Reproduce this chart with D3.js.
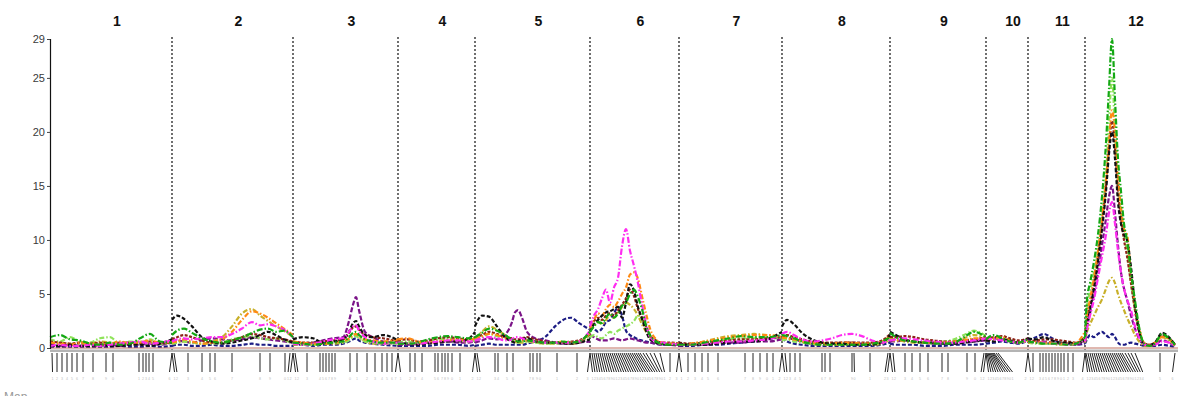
<!DOCTYPE html>
<html>
<head>
<meta charset="utf-8">
<script src="https://cdn.jsdelivr.net/npm/d3@7"></script>
<style>
  html, body { margin: 0; padding: 0; background: #fff; }
  svg { display: block; }
</style>
</head>
<body>
<svg id="chart" width="1184" height="396"></svg>
<script>
// ---------------- DATA ----------------
const chromosomes = ["1","2","3","4","5","6","7","8","9","10","11","12"];
const chrLengths = [122,121,105,77,115,89,103,108,96,42,57,90];
const yTickValues = [0,5,10,15,20,25,28.6];

// local positions (cM) of LOD evaluation points per chromosome
const grid = [
  [0,10,20,30,40,50,60,70,80,90,100,110,122],
  [0,5,12,20,30,40,50,60,70,80,88,96,104,112,121],
  [0,10,20,30,40,50,56,60,63,66,72,80,90,105],
  [0,10,20,30,40,50,60,70,77],
  [0,7,14,22,30,37,40,43,47,52,60,70,80,88,96,104,115],
  [0,4,8,12,16,20,24,28,32,36,40,44,48,52,56,60,66,72,80,89],
  [0,12,25,38,50,62,75,88,103],
  [0,5,12,20,30,40,50,60,70,80,90,100,108],
  [0,6,14,24,34,44,54,64,74,84,96],
  [0,8,16,24,32,42],
  [0,8,16,24,32,40,48,57],
  [0,2,5,9,13,17,21,24,27,30,33,36,39,42,46,50,55,60,65,70,77,84,90]
];

const lodNavy = [
  [0.1,0.1,0.1,0.1,0.1,0.1,0.1,0.2,0.1,0.1,0.2,0.1,0.2],
  [0.2,0.3,0.3,0.2,0.2,0.3,0.2,0.2,0.3,0.4,0.3,0.3,0.2,0.2,0.2],
  [0.3,0.3,0.2,0.3,0.3,0.4,0.6,0.8,0.9,0.7,0.5,0.4,0.3,0.2],
  [0.2,0.2,0.2,0.2,0.3,0.3,0.3,0.2,0.3],
  [0.2,0.3,0.4,0.3,0.3,0.3,0.3,0.3,0.3,0.4,0.6,1.0,2.0,2.6,2.8,2.3,1.7],
  [2.0,1.8,1.5,1.8,2.4,2.6,3.2,3.8,3.0,1.6,1.2,1.0,0.8,0.7,0.6,0.5,0.4,0.3,0.3,0.3],
  [0.2,0.2,0.3,0.3,0.4,0.5,0.6,0.8,1.0],
  [0.9,0.6,0.4,0.3,0.2,0.2,0.2,0.2,0.2,0.2,0.2,0.3,0.5],
  [0.4,0.3,0.3,0.3,0.2,0.2,0.2,0.3,0.3,0.3,0.4],
  [0.4,0.5,0.6,0.5,0.4,0.7],
  [0.7,1.0,1.3,0.9,0.5,0.4,0.3,0.4],
  [0.4,0.8,1.2,1.0,1.3,1.5,1.2,1.0,1.3,1.0,0.5,0.3,0.3,0.4,0.5,0.4,0.3,0.2,0.2,0.2,0.3,0.2,0.1]
];
const lodPurple = [
  [0.2,0.2,0.3,0.2,0.2,0.2,0.3,0.2,0.3,0.3,0.4,0.3,0.5],
  [0.5,0.7,0.6,0.5,0.7,0.9,0.8,0.7,0.8,1.0,0.9,0.8,0.7,0.6,0.5],
  [0.5,0.4,0.5,0.7,0.9,1.0,2.5,4.0,4.7,3.5,1.5,1.0,0.6,0.5],
  [0.3,0.3,0.4,0.5,0.5,0.6,0.5,0.5,0.6],
  [0.5,0.7,0.9,0.8,1.2,2.4,3.3,3.5,2.8,1.5,0.9,0.7,0.5,0.4,0.4,0.5,0.6],
  [1.2,1.0,0.8,0.7,0.7,0.8,0.9,0.8,0.7,0.8,0.9,0.8,0.7,0.6,0.5,0.5,0.4,0.3,0.3,0.2],
  [0.2,0.3,0.3,0.4,0.5,0.5,0.6,0.6,0.8],
  [0.8,0.9,0.8,0.6,0.4,0.4,0.4,0.5,0.5,0.4,0.4,0.5,0.9],
  [0.6,0.6,0.7,0.6,0.5,0.4,0.4,0.4,0.5,0.6,0.7],
  [0.7,0.9,0.8,0.6,0.5,0.8],
  [0.5,0.6,0.6,0.5,0.4,0.3,0.3,0.6],
  [0.6,2.0,3.2,5.0,7.0,9.5,12.0,14.0,15.0,12.5,9.5,7.0,5.5,4.5,3.0,1.8,0.7,0.3,0.2,0.3,0.7,0.5,0.2]
];
const lodOlive = [
  [0.4,0.5,0.4,0.3,0.4,0.6,0.5,0.4,0.5,0.6,0.5,0.4,0.5],
  [0.4,0.5,0.6,0.5,0.4,0.6,1.0,2.0,3.2,3.6,3.0,2.5,2.0,1.6,1.0],
  [0.3,0.3,0.3,0.4,0.4,0.5,0.8,1.1,1.2,1.0,0.6,0.4,0.4,0.5],
  [0.4,0.5,0.5,0.6,0.7,0.8,0.7,0.6,0.8],
  [0.9,1.5,2.0,1.7,1.2,0.8,0.6,0.5,0.5,0.6,0.5,0.4,0.4,0.5,0.4,0.5,1.2],
  [1.6,2.0,2.4,2.2,2.6,3.0,2.8,3.3,3.8,4.2,4.0,3.6,3.0,2.2,1.5,1.0,0.6,0.5,0.4,0.3],
  [0.3,0.4,0.6,0.9,1.1,1.2,1.3,1.2,1.0],
  [0.8,0.9,0.8,0.6,0.4,0.3,0.3,0.3,0.4,0.3,0.3,0.4,0.8],
  [0.9,0.8,0.6,0.5,0.5,0.5,0.5,0.6,0.9,1.2,0.9],
  [0.7,0.8,0.9,0.7,0.5,0.7],
  [0.5,0.5,0.4,0.4,0.3,0.3,0.4,0.9],
  [0.5,1.5,2.2,3.0,3.8,4.5,5.5,6.2,6.5,6.0,5.0,4.2,3.5,2.8,2.0,1.2,0.5,0.2,0.2,0.4,1.0,0.7,0.2]
];
const lodLime = [
  [0.8,0.6,1.0,0.6,0.5,0.9,1.0,0.4,0.6,0.5,0.8,0.4,0.6],
  [0.4,0.5,0.6,0.5,0.4,0.4,0.5,0.8,1.0,1.1,0.9,0.8,0.9,0.7,0.5],
  [0.4,0.3,0.3,0.4,0.5,0.5,0.7,1.0,1.1,0.9,0.6,0.5,0.4,0.4],
  [0.5,0.6,0.5,0.6,0.8,0.9,0.8,0.6,0.7],
  [0.8,1.0,1.3,1.1,0.9,0.7,0.6,0.5,0.6,0.6,0.5,0.4,0.4,0.5,0.5,0.6,1.2],
  [1.0,1.2,1.0,0.9,1.2,1.5,1.3,1.6,1.8,2.0,2.2,2.5,3.0,2.6,1.8,1.0,0.5,0.4,0.4,0.3],
  [0.3,0.3,0.4,0.6,0.8,0.9,0.9,1.0,0.9],
  [0.7,0.8,0.6,0.5,0.4,0.4,0.4,0.4,0.4,0.4,0.4,0.5,0.9],
  [0.8,0.7,0.7,0.6,0.5,0.5,0.6,0.8,1.2,1.6,1.1],
  [0.8,1.0,0.8,0.6,0.5,0.7],
  [0.5,0.4,0.4,0.4,0.3,0.3,0.4,0.8],
  [0.8,3.8,5.2,7.0,9.0,12.0,16.0,21.0,25.0,20.0,15.0,12.5,10.5,9.0,6.0,3.5,1.2,0.3,0.2,0.5,1.2,0.8,0.3]
];
const lodBrown = [
  [0.6,0.5,0.4,0.5,0.4,0.5,0.4,0.5,0.5,0.4,0.6,0.5,0.5],
  [0.8,1.0,1.2,1.0,0.7,0.5,0.5,0.7,1.0,1.3,1.2,1.0,0.9,0.8,0.6],
  [0.6,0.5,0.5,0.6,0.7,0.8,1.4,1.9,2.0,1.7,1.2,1.0,0.9,0.6],
  [0.7,0.8,0.6,0.7,0.9,1.0,0.9,0.8,1.0],
  [1.0,1.2,1.5,1.3,1.0,0.9,0.8,0.8,0.9,1.0,0.8,0.6,0.5,0.5,0.6,0.7,1.3],
  [2.2,2.5,2.8,2.6,3.0,3.2,3.0,3.5,4.0,4.6,5.4,4.8,3.6,2.8,2.0,1.2,0.7,0.5,0.5,0.4],
  [0.5,0.4,0.5,0.6,0.7,0.8,0.8,0.9,1.0],
  [1.0,1.2,1.0,0.8,0.6,0.5,0.5,0.5,0.5,0.5,0.5,0.7,1.3],
  [1.0,1.0,1.1,1.0,0.8,0.7,0.6,0.6,0.7,0.8,1.0],
  [0.9,1.0,1.1,0.9,0.7,0.9],
  [0.6,0.7,0.8,0.8,0.7,0.6,0.5,1.0],
  [0.8,2.5,4.0,6.0,8.5,11.5,15.0,18.5,21.0,18.5,14.5,12.0,10.0,8.5,6.0,3.5,1.2,0.4,0.3,0.5,1.2,0.9,0.3]
];
const lodOrange = [
  [0.5,0.4,0.3,0.5,0.4,0.3,0.4,0.6,0.4,0.5,0.7,0.5,0.6],
  [0.5,0.6,0.8,0.6,0.4,0.5,0.8,1.5,2.6,3.4,3.2,2.8,2.3,1.8,1.2],
  [0.6,0.5,0.4,0.4,0.5,0.6,0.9,1.2,1.3,1.1,0.8,0.7,0.6,0.8],
  [0.8,0.9,0.6,0.5,0.6,0.7,0.8,0.7,0.9],
  [0.9,1.1,1.3,1.2,0.9,0.7,0.6,0.6,0.7,0.7,0.6,0.5,0.5,0.6,0.5,0.6,1.4],
  [1.8,2.6,3.2,3.0,3.6,4.0,3.8,4.3,5.0,5.6,6.8,7.0,6.4,4.8,3.2,1.8,0.8,0.5,0.4,0.4],
  [0.3,0.4,0.6,0.8,1.0,1.1,1.2,1.2,1.0],
  [1.0,0.9,0.8,0.6,0.5,0.4,0.4,0.5,0.5,0.4,0.4,0.6,1.1],
  [0.8,0.7,0.7,0.6,0.5,0.5,0.5,0.6,0.7,0.9,0.8],
  [0.8,0.9,1.0,0.7,0.5,0.7],
  [0.5,0.6,0.5,0.5,0.4,0.4,0.5,1.5],
  [1.0,3.0,4.5,6.5,9.0,12.0,15.5,19.0,22.0,20.0,16.0,13.0,11.0,10.5,7.0,4.0,1.5,0.4,0.3,0.5,1.0,0.8,0.3]
];
const lodMagenta = [
  [0.2,0.3,0.2,0.2,0.3,0.2,0.3,0.4,0.5,0.6,0.4,0.5,0.7],
  [0.6,0.8,0.9,0.8,0.9,1.0,1.0,1.3,1.8,2.4,2.1,2.2,2.0,1.7,1.0],
  [0.4,0.3,0.4,0.6,0.8,0.9,1.5,2.0,2.1,1.6,1.0,0.6,0.4,0.5],
  [0.5,0.4,0.4,0.5,0.6,0.7,0.7,0.6,0.7],
  [0.7,0.9,1.0,0.9,0.7,0.8,1.0,1.0,0.9,0.7,0.6,0.5,0.5,0.5,0.5,0.6,1.6],
  [2.0,3.0,3.6,4.6,5.4,4.2,5.6,6.5,9.4,11.0,9.0,7.6,6.0,4.0,2.3,1.0,0.6,0.5,0.4,0.3],
  [0.3,0.3,0.4,0.5,0.6,0.6,0.7,0.8,1.2],
  [1.3,1.5,1.2,0.8,0.6,0.7,0.9,1.2,1.3,1.1,0.7,0.5,0.8],
  [0.7,0.8,0.9,0.8,0.7,0.6,0.5,0.5,0.6,0.7,0.9],
  [0.9,0.8,0.7,0.6,0.5,0.8],
  [0.6,0.5,0.5,0.4,0.4,0.3,0.4,0.8],
  [0.6,1.8,3.0,4.5,6.5,8.5,10.5,12.5,13.5,11.5,9.0,7.0,5.5,4.5,3.5,2.0,0.8,0.3,0.2,0.3,0.6,0.5,0.2]
];
const lodBlack = [
  [0.3,0.2,0.3,0.2,0.2,0.3,0.2,0.2,0.3,0.3,0.2,0.4,0.8],
  [2.6,3.0,2.7,2.0,1.0,0.6,0.4,0.5,0.7,0.9,1.2,1.5,1.2,0.8,0.5],
  [0.8,1.0,0.9,0.5,0.6,0.8,1.5,2.3,2.5,2.0,1.2,1.0,1.2,0.7],
  [0.5,0.4,0.3,0.4,0.5,0.6,0.6,0.8,1.5],
  [2.0,3.0,2.9,2.0,1.0,0.6,0.5,0.6,0.8,0.9,0.6,0.5,0.5,0.4,0.4,0.5,0.8],
  [1.5,2.2,2.6,3.0,3.3,3.4,3.6,3.8,2.8,4.2,5.9,5.3,3.8,2.7,1.6,0.8,0.5,0.4,0.3,0.3],
  [0.4,0.3,0.3,0.4,0.5,0.6,0.6,0.8,1.5],
  [2.0,2.6,2.2,1.4,0.8,0.5,0.4,0.4,0.3,0.3,0.3,0.5,1.2],
  [1.5,1.2,0.8,0.6,0.5,0.5,0.4,0.4,0.5,0.6,0.8],
  [0.7,0.6,0.8,0.7,0.5,0.9],
  [0.9,0.8,1.0,0.7,0.5,0.5,0.4,0.8],
  [0.8,2.0,3.5,5.5,8.0,11.0,14.5,18.0,20.0,17.5,13.5,11.5,10.5,10.0,7.5,4.0,1.2,0.3,0.3,0.5,1.4,1.0,0.3]
];
const lodGreen = [
  [1.0,1.2,0.8,0.7,0.4,0.3,0.5,0.3,0.4,0.9,1.3,0.6,0.5],
  [1.2,1.6,1.8,1.4,0.9,0.6,0.5,0.7,1.0,1.4,1.7,1.8,1.5,1.6,1.0],
  [0.5,0.4,0.3,0.4,0.5,0.6,1.0,1.4,1.5,1.2,0.8,0.6,0.5,0.5],
  [0.4,0.4,0.5,0.8,1.0,1.1,1.0,0.9,1.0],
  [1.0,1.4,1.8,1.6,1.2,0.8,0.7,0.6,0.6,0.7,0.6,0.5,0.5,0.6,0.5,0.6,1.5],
  [1.5,2.0,2.4,2.3,2.8,3.2,2.8,3.2,3.9,4.2,5.0,5.4,4.7,3.6,2.1,1.2,0.6,0.4,0.3,0.3],
  [0.3,0.3,0.5,0.7,0.9,1.1,1.0,1.0,1.2],
  [1.2,1.1,0.9,0.6,0.4,0.3,0.3,0.3,0.3,0.3,0.4,0.6,1.0],
  [1.4,1.0,0.7,0.6,0.5,0.4,0.4,0.5,1.0,1.5,1.0],
  [0.8,1.2,0.9,0.6,0.5,0.8],
  [0.6,0.5,0.4,0.4,0.4,0.3,0.4,1.0],
  [1.0,4.5,6.0,8.0,10.5,14.0,19.0,24.0,28.6,23.0,17.5,14.5,11.5,10.0,7.0,4.4,1.5,0.3,0.2,0.4,1.3,0.9,0.3]
];

// marker positions (local cM) per chromosome
const markers = [
  [2,7,12,17,22,27,33,43,56,63,89,93,96,99,103,122],
  [0,2,16,30,38,43,60,88,98,113,118,121],
  [0,2,14,27,30,33,36,39,42,57,64,74,82,89,94,99,105],
  [0,12,17,24,37,40,44,47,50,54,62,77],
  [0,2,20,23,32,38,55,58,62,65,82,102,115],
  [0,2,4,6,8,10,12,14,16,18,20,22,24,26,28,30,32,34,36,38,40,42,44,46,48,50,53,56,60,64,70,80,89],
  [0,9,16,23,29,39,66,74,81,88,94,103],
  [0,3,8,13,18,40,43,48,70,72,88,106,108],
  [0,3,15,22,30,38,52,58,77,85,94,96],
  [0,1,2,3,4,5,6,7,8,10,12,42],
  [0,5,12,15,18,21,24,27,30,33,36,40,45,57],
  [0,1,3,5,7,9,11,13,15,17,19,21,23,25,27,29,31,33,35,37,40,43,46,50,75,90]
];

// ---------------- DRAW ----------------
const series = [
  {vals: lodNavy,    color: "#1c1c84", dash: "4,2"},
  {vals: lodPurple,  color: "#7b1488", dash: "5,2"},
  {vals: lodOlive,   color: "#c8b02a", dash: "5,2,1.5,2"},
  {vals: lodLime,    color: "#8fe35a", dash: "5,2,1.5,2"},
  {vals: lodBrown,   color: "#8e2418", dash: "3,1.5"},
  {vals: lodOrange,  color: "#ff8a14", dash: "5,2,1.5,2"},
  {vals: lodBlack,   color: "#111111", dash: "4,2"},
  {vals: lodMagenta, color: "#ff2cf0", dash: "6,2,1.5,2"},
  {vals: lodGreen,   color: "#14a814", dash: "6,2,1.5,2"}
];

const svg = d3.select("#chart");
const total = d3.sum(chrLengths);
const chrStart = chrLengths.map((d, i) => d3.sum(chrLengths.slice(0, i)));

const x = d3.scaleLinear().domain([0, total]).range([50, 1175]);
const y = d3.scaleLinear().domain([0, 28.6]).range([348, 39]);

// chromosome labels
svg.append("g").selectAll("text").data(chromosomes).join("text")
  .attr("x", (d, i) => x(chrStart[i] + chrLengths[i] / 2) + 6)
  .attr("y", 26)
  .attr("text-anchor", "middle")
  .attr("font-family", "Liberation Sans, Arial, sans-serif")
  .attr("font-weight", "bold")
  .attr("font-size", 14)
  .attr("fill", "#111")
  .text(d => d);

// chromosome boundaries (dashed)
svg.append("g").selectAll("line").data(chrStart.slice(1)).join("line")
  .attr("x1", d => x(d)).attr("x2", d => x(d))
  .attr("y1", 37).attr("y2", 350)
  .attr("stroke", "#222").attr("stroke-width", 1.3)
  .attr("stroke-dasharray", "2,2");

// LOD curves
const line = d3.line().x(d => x(d[0])).y(d => y(d[1])).curve(d3.curveMonotoneX);
const curves = svg.append("g").attr("fill", "none");
series.forEach(s => {
  chromosomes.forEach((c, ci) => {
    const pts = grid[ci].map((p, i) => [chrStart[ci] + p, s.vals[ci][i]]);
    curves.append("path")
      .attr("d", line(pts))
      .attr("stroke", s.color)
      .attr("stroke-width", 2.2)
      .attr("stroke-dasharray", s.dash)
      .attr("stroke-linejoin", "round");
  });
});

// baseline band
svg.append("rect")
  .attr("x", x(0)).attr("y", 349.5)
  .attr("width", x(total) - x(0) + 3).attr("height", 2.5)
  .attr("fill", "#b4b4b4");
svg.append("line")
  .attr("x1", x(0)).attr("x2", x(total) + 3)
  .attr("y1", y(0)).attr("y2", y(0))
  .attr("stroke", "#c07060").attr("stroke-width", 1);

// y axis
const yAxis = d3.axisLeft(y).tickValues(yTickValues).tickSize(3)
  .tickFormat(d3.format(".0f"));
const ya = svg.append("g").attr("transform", `translate(${x(0)},0)`).call(yAxis);
ya.select(".domain").attr("stroke", "#111").attr("stroke-width", 1.2);
ya.selectAll(".tick line").attr("stroke", "#444");
ya.selectAll(".tick text")
  .attr("font-family", "Liberation Sans, Arial, sans-serif")
  .attr("font-size", 11).attr("fill", "#3a3a3a").attr("x", -5);

// marker ticks and labels
function spread(xs, lo, hi, gap) {
  const out = xs.map(v => Math.max(lo, Math.min(hi, v)));
  for (let i = 1; i < out.length; i++) out[i] = Math.max(out[i], out[i - 1] + gap);
  if (out[out.length - 1] > hi) {
    out[out.length - 1] = hi;
    for (let i = out.length - 2; i >= 0; i--) out[i] = Math.min(out[i], out[i + 1] - gap);
  }
  return out;
}
const mg = svg.append("g");
markers.forEach((ms, ci) => {
  const tops = ms.map(m => x(chrStart[ci] + m));
  const lo = x(chrStart[ci]) + 2.5, hi = x(chrStart[ci] + chrLengths[ci]) - 2.5;
  const bots = spread(tops, lo, hi, 2.4);
  ms.forEach((m, i) => {
    mg.append("line")
      .attr("x1", tops[i]).attr("x2", bots[i])
      .attr("y1", 353).attr("y2", 372)
      .attr("stroke", "#222").attr("stroke-width", 1);
  });
  mg.selectAll(null).data(ms).join("text")
    .attr("x", (d, i) => bots[i])
    .attr("y", 380)
    .attr("text-anchor", "middle")
    .attr("font-family", "Liberation Sans, Arial, sans-serif")
    .attr("font-size", 3.6)
    .attr("fill", "#bdbdbd")
    .text((d, i) => String((i + 1) % 10));
});

// cut-off caption at bottom-left
svg.append("text")
  .attr("x", 4).attr("y", 401)
  .attr("font-family", "Liberation Sans, Arial, sans-serif")
  .attr("font-size", 12).attr("fill", "#999")
  .text("Map");
</script>
</body>
</html>
